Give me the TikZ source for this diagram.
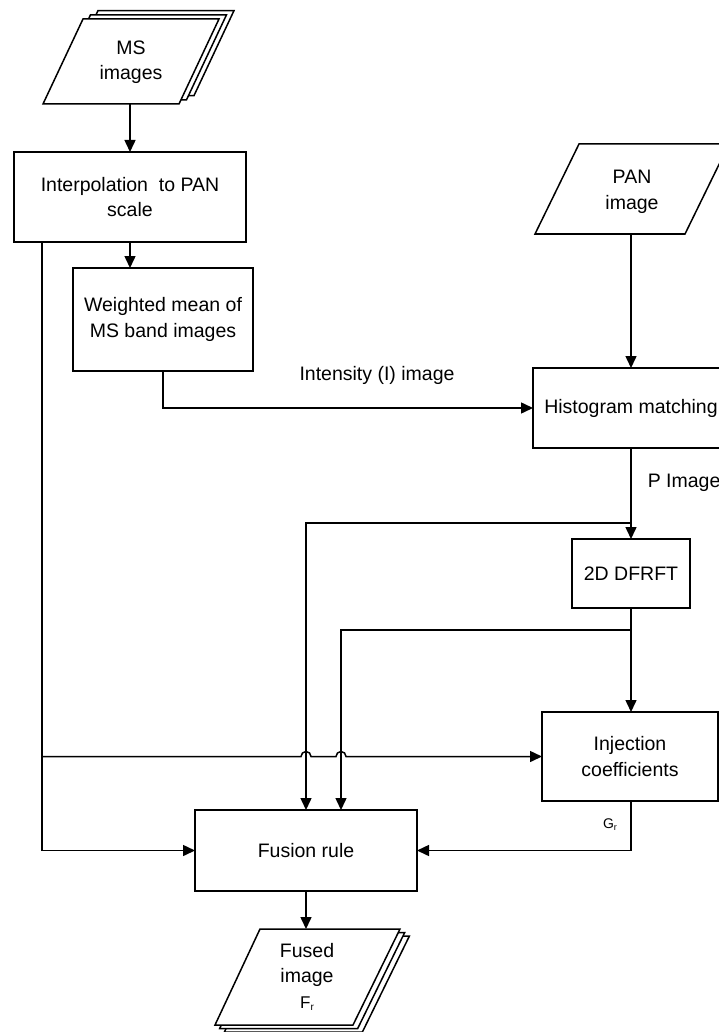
\documentclass[tikz,border=0pt]{standalone}
\usepackage{fontspec}
\setmainfont{Liberation Sans}
\usetikzlibrary{arrows.meta,calc}
\begin{document}
\begin{tikzpicture}[x=1pt,y=-1pt,
  line width=1.5pt,
  txt/.style={font=\fontsize{19.5}{25.5}\selectfont, align=center, inner sep=0pt},
  box/.style={draw, fill=white, txt, outer sep=0pt},
  arr/.style={-{Triangle[length=12pt,width=11pt]}},
  sheet/.style={draw, fill=white, line join=miter}
]
\clip (0,0) rectangle (719,1032);

% stacked input sheets: MS images
\foreach \d in {2,1,0}
  \draw[sheet, shift={(\d*7.5,-\d*4.2)}] (83,19) -- (219,19) -- (179,104) -- (43,104) -- cycle;
\node[txt] (ms) at (131,62) {MS\\images};
\coordinate (ms-b) at (130,104);

% PAN image sheet
\draw[sheet] (579,144) -- (729,144) -- (685,234) -- (535,234) -- cycle;
\node[txt] (pan) at (632,192) {PAN\\image};
\coordinate (pan-b) at (631,234);

% stacked output sheets: fused image
\foreach \d in {2,1,0}
  \draw[sheet, shift={(\d*4.7,\d*3.5)}] (260,929) -- (400,929) -- (353,1025) -- (215,1025) -- cycle;
\node[txt] (fused) at (307,977) {Fused\\image\\{\fontsize{17}{17}\selectfont F\raisebox{-2.5pt}{\fontsize{10}{10}\selectfont r}}};
\coordinate (fused-t) at (306,929);

% processing blocks
\node[box, minimum width=232pt, minimum height=90pt] (interp) at (130,197) {Interpolation\ \ to PAN\\scale};
\node[box, minimum width=180pt, minimum height=103pt] (weighted) at (163,319.5) {Weighted mean of\\MS band images};
\node[box, minimum width=196pt, minimum height=80pt] (hist) at (631,408) {Histogram matching};
\node[box, minimum width=118pt, minimum height=69pt] (dfrft) at (631,573.5) {2D DFRFT};
\node[box, minimum width=176pt, minimum height=89pt] (inj) at (630,756.5) {Injection\\coefficients};
\node[box, minimum width=222pt, minimum height=81pt] (fusion) at (306,850.5) {Fusion rule};

\coordinate (lv) at ($(interp.south west)+(28,0)$);

% connectors
\draw[arr] (ms-b) -- (interp.north);
\draw[arr] (interp.south) -- (interp.south |- weighted.north);
\draw[arr] (lv) |- (fusion.west);
\draw[arr] (lv |- inj.west) -- (301,756.5) arc (180:0:5pt) -- (336,756.5) arc (180:0:5pt) -- (inj.west);
\draw[arr] (weighted.south) |- (hist.west);
\draw[arr] (pan-b) -- (hist.north);
\draw[arr] (hist.south) -- (dfrft.north);
\draw[arr] (dfrft.south) -- (dfrft.south |- inj.north);
\draw[arr] (hist.south) ++(0,75) -| (fusion.north);
\draw[arr] (dfrft.south) ++(0,22) -| ($(fusion.north)+(35,0)$);
\draw[arr] (dfrft.south |- inj.south) |- (fusion.east);
\draw[arr] (fusion.south) -- (fused-t);

% edge labels
\node[txt] (ilabel) at (377,375) {Intensity (I) image};
\node[txt, anchor=west] (plabel) at (647,483) {P Image};
\node[inner sep=0pt] (glabel) at (610,825) {{\fontsize{14}{14}\selectfont G}\raisebox{-2pt}{\fontsize{9}{9}\selectfont r}};
\end{tikzpicture}
\end{document}
